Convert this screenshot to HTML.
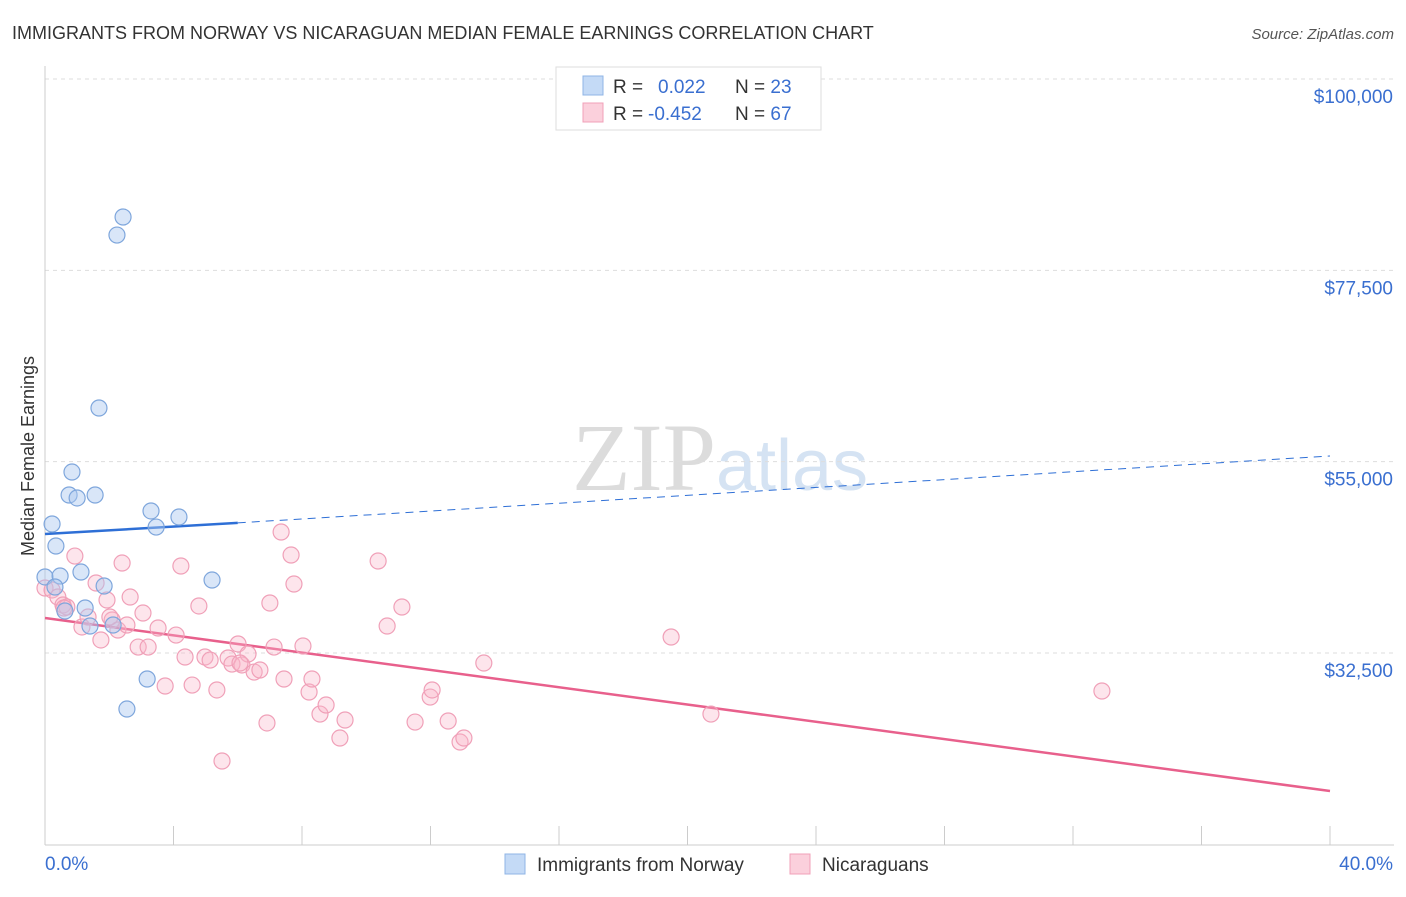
<!DOCTYPE html>
<html><head><meta charset="utf-8"><style>
body{margin:0;background:#fff;font-family:"Liberation Sans",sans-serif;}
svg text{font-family:"Liberation Sans",sans-serif;}
</style></head><body>
<svg id="chart" width="1406" height="892" viewBox="0 0 1406 892" xmlns="http://www.w3.org/2000/svg">
<text x="12" y="39" font-size="18" fill="#333">IMMIGRANTS FROM NORWAY VS NICARAGUAN MEDIAN FEMALE EARNINGS CORRELATION CHART</text>
<text x="1394" y="39" font-size="15" fill="#555" font-style="italic" text-anchor="end">Source: ZipAtlas.com</text>
<text x="720" y="490" font-size="96" fill="#e4e4e4" text-anchor="middle" font-family="Liberation Serif"><tspan fill="#dcdcdc" font-family="Liberation Serif">ZIP</tspan><tspan fill="#d5e3f3" font-family="Liberation Sans" font-size="72">atlas</tspan></text>
<g id="grid"></g>
<g id="axes"></g>
<g id="lines"></g>
<g id="points"></g>
<text transform="translate(34,456) rotate(-90)" font-size="18" fill="#333" text-anchor="middle">Median Female Earnings</text>
<g>
<rect x="556" y="67" width="265" height="63" fill="#fff" stroke="#ddd"/>
<rect x="583" y="76" width="20" height="19" fill="#c4daf6" stroke="#8fb4e6"/>
<rect x="583" y="103" width="20" height="19" fill="#fbd0dc" stroke="#f0a0b8"/>
<text x="613" y="93" font-size="19" fill="#333">R = <tspan fill="#3a6fd0" x="658">0.022</tspan><tspan x="735" fill="#333">N = </tspan><tspan fill="#3a6fd0">23</tspan></text>
<text x="613" y="120" font-size="19" fill="#333">R = <tspan fill="#3a6fd0" x="648">-0.452</tspan><tspan x="735" fill="#333">N = </tspan><tspan fill="#3a6fd0">67</tspan></text>
</g>
<g>
<rect x="505" y="854" width="20" height="20" fill="#c4daf6" stroke="#8fb4e6"/>
<text x="537" y="871" font-size="19" fill="#333">Immigrants from Norway</text>
<rect x="790" y="854" width="20" height="20" fill="#fbd0dc" stroke="#f0a0b8"/>
<text x="822" y="871" font-size="19" fill="#333">Nicaraguans</text>
</g>
</svg>
<script>
const yTicks=[100000,77500,55000,32500];
const yTickLabels=["$100,000","$77,500","$55,000","$32,500"];
const xTicks=[0,4,8,12,16,20,24,28,32,36,40];
const xEndLabels=["0.0%","40.0%"];
const blueX=[2.43,2.24,1.68,0.84,0.75,1.00,1.56,3.30,4.17,3.46,0.22,0.34,0.0,0.47,1.12,5.20,1.84,0.31,1.25,0.62,1.40,2.12,3.18,2.55];
const blueY=[83770,81650,61310,53780,51080,50730,51080,49200,48490,47310,47670,45080,41440,41550,42020,41080,40380,40260,37790,37440,35670,35790,29440,25910];
const pinkX=[0,.22,.40,.56,.68,.93,1.15,1.34,1.59,1.74,1.93,2.09,2.27,2.40,2.55,2.65,2.90,3.05,3.21,3.52,3.74,4.08,4.23,4.36,4.58,4.79,4.98,5.14,5.35,5.51,5.70,5.82,6.01,6.13,6.32,6.51,6.69,6.91,7.00,7.13,7.35,7.44,7.66,7.75,8.03,8.22,8.31,8.56,8.75,9.18,9.34,10.37,10.65,11.11,11.52,11.99,12.05,12.55,12.92,13.04,13.66,19.49,20.73,32.90,.59,2.02,6.07];
const pinkY=[40140,39910,39080,38140,37910,43900,35560,36730,40730,34030,38730,36380,35200,43080,35790,39080,33200,37200,33200,35440,28620,34610,42730,32030,28730,38030,32030,31670,28150,19800,31910,31200,33560,31090,32380,30260,30500,24270,38380,33200,46730,29440,44020,40610,33320,27910,29440,25320,26380,22500,24620,43320,35670,37910,24380,27320,28150,24500,22030,22500,31320,34380,25320,28030,37790,36730,31320];
const blueTrend=[[0,46490],[6,47800],[40,55670]];
const pinkTrend=[[0,36610],[40,16270]];
const NS="http://www.w3.org/2000/svg";
const X0=45,X1=1330,YTOP=79,PX_PER=191.33/22500;
const sx=v=>X0+(v/40)*(X1-X0);
const sy=v=>YTOP+(100000-v)*PX_PER;
function mk(tag,attrs,parent){const e=document.createElementNS(NS,tag);for(const k in attrs)e.setAttribute(k,attrs[k]);parent.appendChild(e);return e;}
const grid=document.getElementById('grid'),axes=document.getElementById('axes'),lines=document.getElementById('lines'),pts=document.getElementById('points');
yTicks.forEach((v,i)=>{
const l=mk('line',{x1:X0,x2:1394,y1:sy(v),y2:sy(v),stroke:'#ddd','stroke-dasharray':'4,4'},grid);


const t=mk('text',{x:1393,y:sy(v)+24,'font-size':19,fill:'#3a6fd0','text-anchor':'end'},axes);
t.textContent=yTickLabels[i];


});
const ax=mk('line',{x1:X0,x2:1394,y1:845,y2:845,stroke:'#ccc'},axes);


const ay=mk('line',{x1:X0,x2:X0,y1:66,y2:845,stroke:'#ccc'},axes);


xTicks.forEach(v=>{
const t=mk('line',{x1:sx(v),x2:sx(v),y1:826,y2:845,stroke:'#ccc'},axes);


});
const xl0=mk('text',{x:45,y:870,'font-size':19,fill:'#3a6fd0'},axes);xl0.textContent=xEndLabels[0];


const xl1=mk('text',{x:1393,y:870,'font-size':19,fill:'#3a6fd0','text-anchor':'end'},axes);xl1.textContent=xEndLabels[1];


pinkX.forEach((v,i)=>{
const c=mk('circle',{cx:sx(v),cy:sy(pinkY[i]),r:8,fill:'rgba(248,180,200,0.35)',stroke:'#f0a0b8','stroke-width':1.2},pts);


});
blueX.forEach((v,i)=>{
const c=mk('circle',{cx:sx(v),cy:sy(blueY[i]),r:8,fill:'rgba(170,200,240,0.45)',stroke:'#7ea6dc','stroke-width':1.2},pts);


});
const b1=mk('line',{x1:sx(blueTrend[0][0]),y1:sy(blueTrend[0][1]),x2:sx(blueTrend[1][0]),y2:sy(blueTrend[1][1]),stroke:'#2e6fd6','stroke-width':2.5},lines);


const b2=mk('line',{x1:sx(blueTrend[1][0]),y1:sy(blueTrend[1][1]),x2:sx(blueTrend[2][0]),y2:sy(blueTrend[2][1]),stroke:'#2e6fd6','stroke-width':1,'stroke-dasharray':'8,6'},lines);


const p1=mk('line',{x1:sx(pinkTrend[0][0]),y1:sy(pinkTrend[0][1]),x2:sx(pinkTrend[1][0]),y2:sy(pinkTrend[1][1]),stroke:'#e8608c','stroke-width':2.5},lines);


</script>
</body></html>
